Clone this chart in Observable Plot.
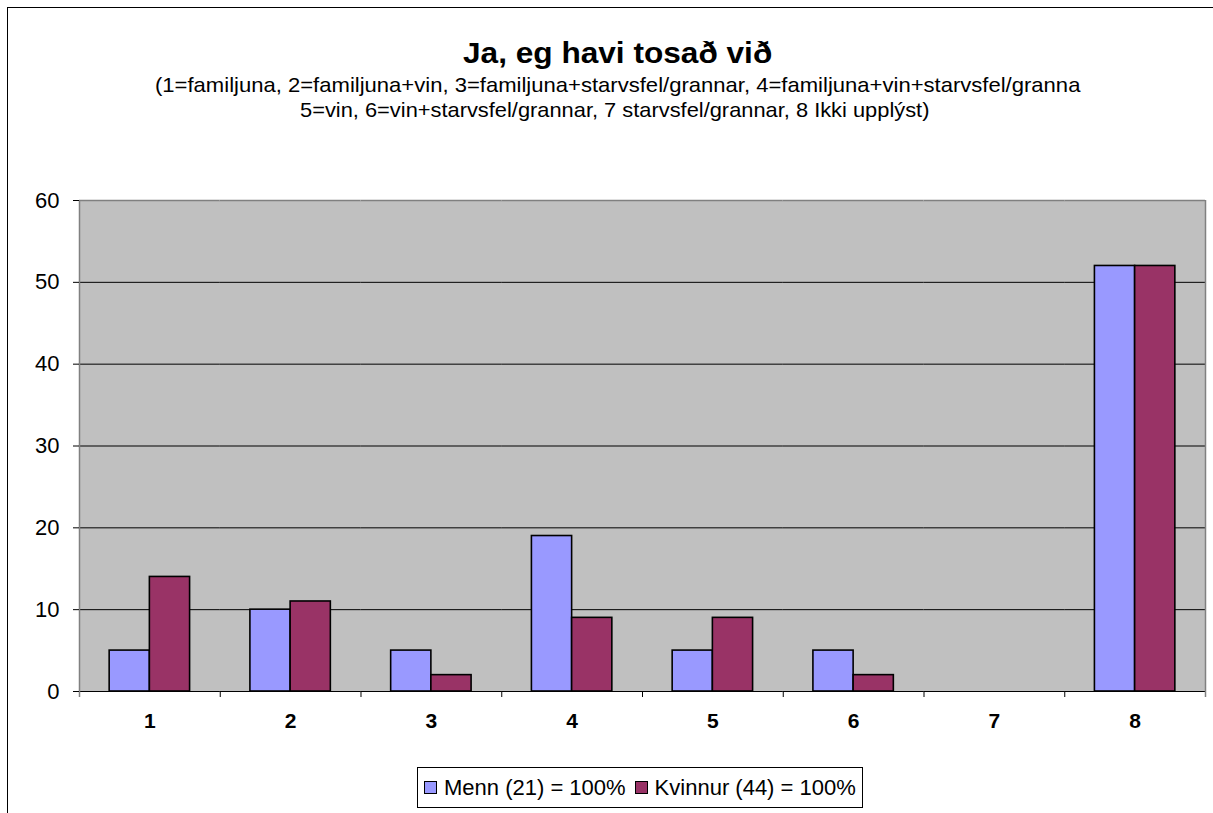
<!DOCTYPE html>
<html>
<head>
<meta charset="utf-8">
<script src="https://cdn.jsdelivr.net/npm/d3@7"></script>
<script src="https://cdn.jsdelivr.net/npm/@observablehq/plot@0.6"></script>
<style>
  html, body { margin: 0; padding: 0; background: #fff; }
  #page { position: relative; width: 1213px; height: 813px; overflow: hidden; background: #fff;
          font-family: "Liberation Sans", Arial, sans-serif; color: #000; }
  #outer { position: absolute; left: 7px; top: 7px; width: 1400px; height: 1000px; border: 1px solid #000; box-sizing: border-box; }
  .t { position: absolute; white-space: nowrap; line-height: 1; transform-origin: 0 0; }
  #title { font-weight: bold; font-size: 29px; }
  .sub { font-size: 21px; }
  #chart { position: absolute; left: 0; top: 170px; }
  #chart svg text { font-size: 22px !important; }
  #chart svg .fxlab text { font-size: 21px !important; font-weight: bold !important; }
  #chart svg g[aria-label="frame"] { shape-rendering: crispEdges; }
  #legend { position: absolute; left: 417px; top: 767px; width: 446px; height: 41px; box-sizing: border-box;
            border: 1px solid #000; background: #fff; display: flex; align-items: center; padding-left: 6px; font-size: 22px; }
  .sw { width: 13px; height: 13px; box-sizing: border-box; border: 1.5px solid #000; margin-right: 7px; flex: none; }
  .lt { margin-right: 9px; white-space: nowrap; }
</style>
</head>
<body>
<div id="page">
  <div id="outer"></div>
  <div id="title" class="t"></div>
  <div id="sub1" class="t sub"></div>
  <div id="sub2" class="t sub"></div>
  <div id="chart"></div>
  <div id="legend"></div>
</div>
<script>
const titleText = "Ja, eg havi tosað við";
const subtitleLines = [
  "(1=familjuna, 2=familjuna+vin, 3=familjuna+starvsfel/grannar, 4=familjuna+vin+starvsfel/granna",
  "5=vin, 6=vin+starvsfel/grannar, 7 starvsfel/grannar, 8 Ikki upplýst)"
];
const categories = ["1", "2", "3", "4", "5", "6", "7", "8"];
const series = ["Menn (21) = 100%", "Kvinnur (44) = 100%"];
const menn = [5, 10, 5, 19, 5, 5, 0, 52];
const kvinnur = [14, 11, 2, 9, 9, 2, 0, 52];
const yTicks = [0, 10, 20, 30, 40, 50, 60];
const colors = ["#9999ff", "#993366"];

const data = categories.flatMap((c, i) => [
  {cat: c, series: series[0], value: menn[i]},
  {cat: c, series: series[1], value: kvinnur[i]}
]);

// Titles (HTML, above the SVG)
const tEl = document.getElementById("title");
tEl.textContent = titleText;
tEl.style.transform = "scaleX(1.09)";
const s1 = document.getElementById("sub1"); s1.textContent = subtitleLines[0]; s1.style.transform = "scaleX(1.05)";
const s2 = document.getElementById("sub2"); s2.textContent = subtitleLines[1]; s2.style.transform = "scaleX(1.04)";
function centerAt(el, cx, top) {
  const w = el.getBoundingClientRect().width; // already scaled
  el.style.left = (cx - w / 2) + "px";
  el.style.top = top + "px";
}
centerAt(tEl, 618, 38.5);
s1.style.left = "155px"; s1.style.top = "74px";
centerAt(s2, 614.5, 99);

// Chart
const W = 1213, ML = 79, MR = 8, PAD = 0.75;
const facetW = (W - ML - MR) / categories.length;
const step = facetW / (2 + 2 * PAD);
const off = PAD * step + step / 2;

const chart = Plot.plot({
  width: W,
  height: 580,
  marginTop: 30,
  marginBottom: 59,
  marginLeft: ML,
  marginRight: MR,
  style: {fontFamily: "'Liberation Sans', Arial, sans-serif", background: "transparent", color: "#000"},
  fx: {domain: categories, padding: 0, round: false, label: null},
  x: {domain: series, paddingInner: 0, paddingOuter: PAD, round: false, axis: null},
  y: {domain: [0, 60]},
  color: {domain: series, range: colors},
  marks: [
    Plot.frame({fill: "#c0c0c0", stroke: null, insetLeft: -0.6, insetRight: -0.6}),
    Plot.ruleY(yTicks.filter(d => d > 0 && d < 60), {stroke: "#000", strokeWidth: 1}),
    Plot.ruleY([60], {stroke: "#808080", strokeWidth: 1.5}),
    Plot.barY(data, {fx: "cat", x: "series", y: "value", fill: "series", stroke: "#000", strokeWidth: 1.6}),
    Plot.ruleY([0], {stroke: "#000", strokeWidth: 1.2}),
    // tick marks at category boundaries
    Plot.ruleX(categories, {fx: d => d, x: () => series[0], dx: -off, y1: 0, y2: 0, insetBottom: -6, stroke: "#000"}),
    // left axis line
    Plot.ruleX([categories[0]], {fx: d => d, x: () => series[0], dx: -off, y1: 60, y2: 0, insetBottom: -6, stroke: "#808080", strokeWidth: 1.5}),
    // right border
    Plot.ruleX([categories[categories.length - 1]], {fx: d => d, x: () => series[1], dx: off, y1: 60, y2: 0, insetBottom: -6, stroke: "#808080", strokeWidth: 1.5}),
    Plot.axisY(yTicks, {tickSize: 6, tickPadding: 14, fontSize: 22, label: null, stroke: "#000"}),
    Plot.axisFx({anchor: "bottom", tickSize: 0, tickPadding: 22, fontSize: 21, fontWeight: "bold", label: null, className: "fxlab"})
  ]
});
document.getElementById("chart").appendChild(chart);
// make the category labels bold
chart.querySelectorAll('g[aria-label="fx-axis tick label"]').forEach(g => g.classList.add("fxlab"));

// Legend (HTML, below the SVG)
const lg = document.getElementById("legend");
series.forEach((s, i) => {
  const sw = document.createElement("span");
  sw.className = "sw";
  sw.style.background = colors[i];
  const lt = document.createElement("span");
  lt.className = "lt";
  lt.textContent = s;
  lg.appendChild(sw);
  lg.appendChild(lt);
});
</script>
</body>
</html>
